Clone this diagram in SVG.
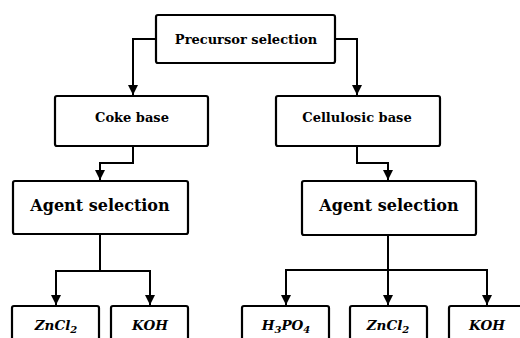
<svg xmlns="http://www.w3.org/2000/svg" width="520" height="338" viewBox="0 0 520 338">
<style>
.box{fill:#fff;stroke:#000;stroke-width:2.2}
.ln{fill:none;stroke:#000;stroke-width:2}
text{font-family:"DejaVu Serif","Liberation Serif",serif;font-weight:bold;fill:#000;text-anchor:middle}
.s{font-size:13px}
.m{font-size:16px}
.i{font-size:13.5px;font-style:italic}
</style>
<defs>
<marker id="ar" viewBox="0 0 10 10" refX="10" refY="5" markerWidth="10" markerHeight="10" markerUnits="userSpaceOnUse" orient="auto">
<path d="M0,0 L10,5 L0,10 z" fill="#000"/>
</marker>
</defs>
<g id="connectors">
<path class="ln" d="M156,39 H133 V95" marker-end="url(#ar)"/>
<path class="ln" d="M335,39 H357 V95" marker-end="url(#ar)"/>
<path class="ln" d="M133,146 V163 H100 V180" marker-end="url(#ar)"/>
<path class="ln" d="M357,146 V163 H388 V180" marker-end="url(#ar)"/>
<path class="ln" d="M100,234 V271 H56 V305" marker-end="url(#ar)"/>
<path class="ln" d="M100,271 H150 V305" marker-end="url(#ar)"/>
<path class="ln" d="M388,235 V270 H286 V305" marker-end="url(#ar)"/>
<path class="ln" d="M388,270 V305" marker-end="url(#ar)"/>
<path class="ln" d="M388,270 H487 V305" marker-end="url(#ar)"/>
</g>
<g id="precursor">
<rect class="box" x="156" y="15" width="179" height="48" rx="2"/>
<text class="s" x="246" y="44">Precursor selection</text>
</g>
<g id="coke">
<rect class="box" x="55" y="96" width="153" height="50" rx="2"/>
<text class="s" x="132" y="122">Coke base</text>
</g>
<g id="cellulosic">
<rect class="box" x="276" y="96" width="164" height="50" rx="2"/>
<text class="s" x="357" y="122">Cellulosic base</text>
</g>
<g id="agent-left">
<rect class="box" x="13" y="181" width="175" height="53" rx="2"/>
<text class="m" x="100" y="211">Agent selection</text>
</g>
<g id="agent-right">
<rect class="box" x="302" y="181" width="174" height="54" rx="2"/>
<text class="m" x="389" y="211">Agent selection</text>
</g>
<g id="zncl2-left">
<rect class="box" x="12" y="306" width="87" height="40" rx="2"/>
<text class="i" x="56" y="330">ZnCl<tspan font-size="10" dy="3">2</tspan></text>
</g>
<g id="koh-left">
<rect class="box" x="111" y="306" width="77" height="40" rx="2"/>
<text class="i" x="150" y="330">KOH</text>
</g>
<g id="h3po4">
<rect class="box" x="242" y="306" width="87" height="40" rx="2"/>
<text class="i" x="286" y="330">H<tspan font-size="10" dy="3">3</tspan><tspan dy="-3">PO</tspan><tspan font-size="10" dy="3">4</tspan></text>
</g>
<g id="zncl2-right">
<rect class="box" x="350" y="306" width="77" height="40" rx="2"/>
<text class="i" x="388" y="330">ZnCl<tspan font-size="10" dy="3">2</tspan></text>
</g>
<g id="koh-right">
<rect class="box" x="449" y="306" width="80" height="40" rx="2"/>
<text class="i" x="487" y="330">KOH</text>
</g>
</svg>
